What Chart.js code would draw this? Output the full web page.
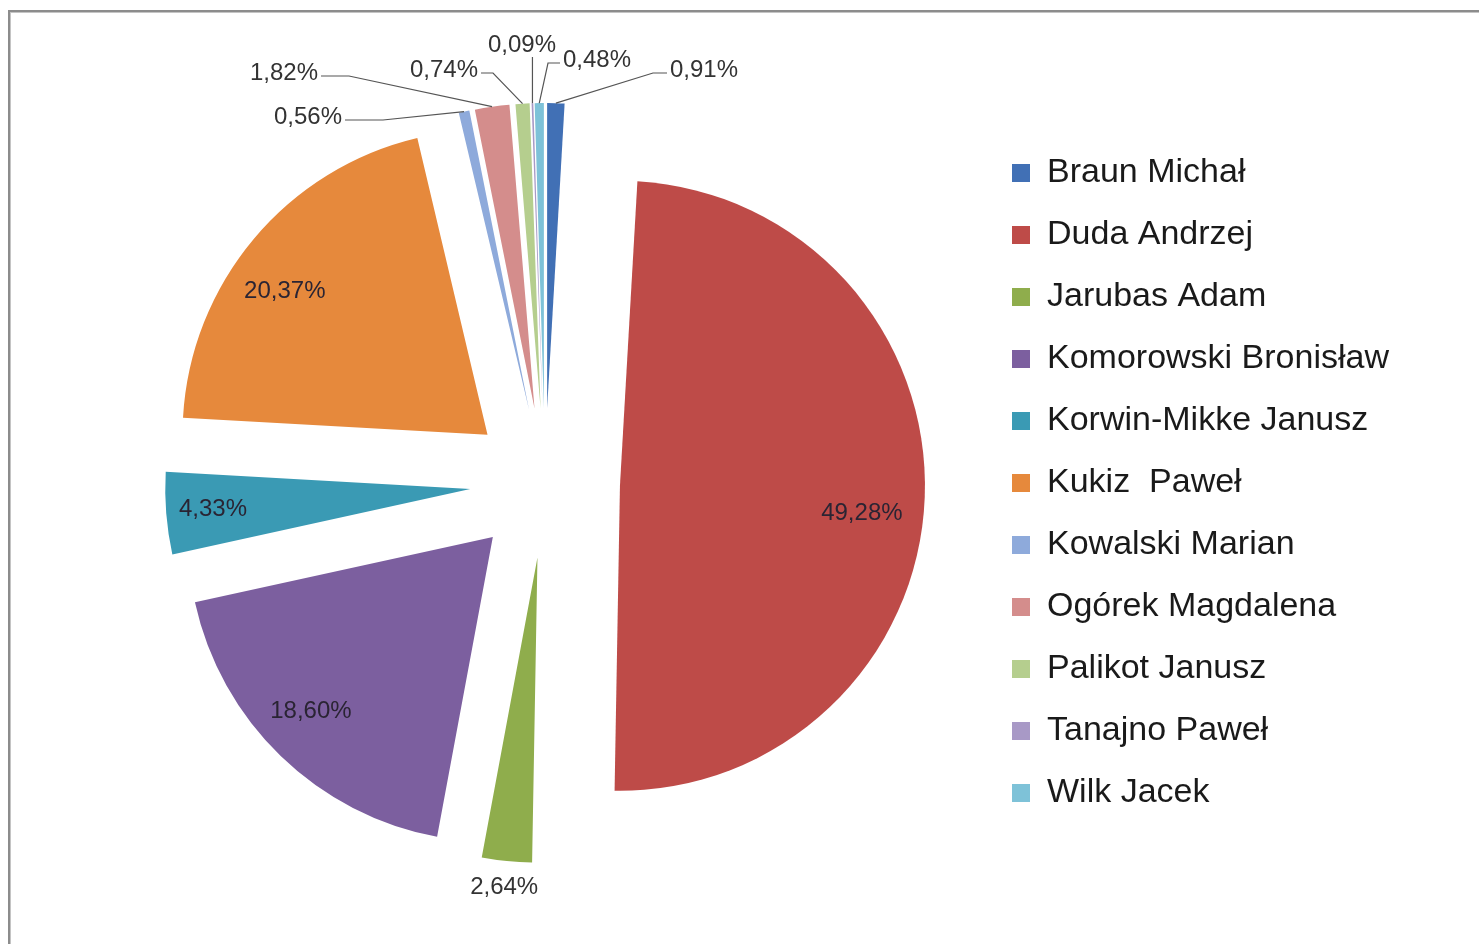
<!DOCTYPE html>
<html>
<head>
<meta charset="utf-8">
<script src="https://cdn.jsdelivr.net/npm/chart.js@4.4.1/dist/chart.umd.min.js"></script>
<style>
  html, body { margin: 0; padding: 0; background: #fff; overflow: hidden; }
  #wrap { position: relative; width: 1479px; height: 944px; }
  #frame { position: absolute; left: 8px; top: 10px; width: 1600px; height: 1100px;
           border-top: 2px solid #8c8c8c; border-left: 2px solid #8c8c8c;
           box-shadow: inset 1px 1px 0 #c4c4c4; pointer-events: none; }
</style>
</head>
<body>
<div id="wrap">
  <canvas id="c" width="1479" height="944"></canvas>
  <div id="frame"></div>
</div>
<script>
// ---- data ----
const categories = ['Braun Michał', 'Duda Andrzej', 'Jarubas Adam', 'Komorowski Bronisław',
  'Korwin-Mikke Janusz', 'Kukiz  Paweł', 'Kowalski Marian', 'Ogórek Magdalena',
  'Palikot Janusz', 'Tanajno Paweł', 'Wilk Jacek'];
const shares = [0.91, 49.28, 2.64, 18.60, 4.33, 20.37, 0.56, 1.82, 0.74, 0.09, 0.48];
const colors = ['#4170B5', '#BE4B48', '#8FAD4C', '#7C5F9F', '#3A9AB4', '#E6893C',
  '#8EAADB', '#D48D8C', '#B5CE8E', '#A899C6', '#7EC2D8'];

const fmt = v => v.toFixed(2).replace('.', ',') + '%';

// ---- styling / layout constants (not data) ----
const EXPLODE = 75;
// inside labels: pixel nudge from the default 0.82r position
const insideNudge = { 1: [-8, 18], 3: [-8, -5], 4: [-8, 0], 5: [-11, 17] };
const belowIdx = [2];
const calloutLayout = {
  0:  { dx: 125,  dy: -413, align: 'left',   hook: 14 },
  10: { dx: 18,   dy: -423, align: 'left',   hook: 12 },
  9:  { dx: -23,  dy: -438, align: 'center', hook: 0 },
  8:  { dx: -67,  dy: -413, align: 'right',  hook: 12 },
  7:  { dx: -227, dy: -410, align: 'right',  hook: 28 },
  6:  { dx: -203, dy: -366, align: 'right',  hook: 38 }
};

const explodePlugin = {
  id: 'explode',
  beforeDatasetDraw(chart, args) {
    args.meta.data.forEach(arc => {
      if (arc._exploded) return;
      const orig = arc.draw.bind(arc);
      arc.draw = function (ctx, area) {
        const half = (this.startAngle + this.endAngle) / 2;
        ctx.save();
        ctx.translate(Math.cos(half) * EXPLODE, Math.sin(half) * EXPLODE);
        orig(ctx, area);
        ctx.restore();
      };
      arc._exploded = true;
    });
  }
};

const labelPlugin = {
  id: 'sliceLabels',
  afterDatasetsDraw(chart) {
    const ctx = chart.ctx;
    const meta = chart.getDatasetMeta(0);
    ctx.save();
    ctx.textBaseline = 'middle';
    ctx.font = '24px "Liberation Sans", Arial, sans-serif';
    meta.data.forEach((arc, i) => {
      const half = (arc.startAngle + arc.endAngle) / 2;
      const ux = Math.cos(half), uy = Math.sin(half);
      const cx = arc.x, cy = arc.y, r = arc.outerRadius;
      const txt = fmt(shares[i]);
      if (insideNudge[i]) {
        const d = EXPLODE + r * 0.82;
        const [nx, ny] = insideNudge[i];
        ctx.fillStyle = '#2a2433';
        ctx.textAlign = 'center';
        ctx.fillText(txt, cx + ux * d + nx, cy + uy * d + ny);
      } else if (belowIdx.includes(i)) {
        const d = EXPLODE + r + 26;
        ctx.fillStyle = '#333';
        ctx.textAlign = 'center';
        ctx.fillText(txt, cx + ux * d, cy + uy * d);
      } else if (calloutLayout[i]) {
        const L = calloutLayout[i];
        const tx = cx + L.dx, ty = cy + L.dy;
        const p0x = cx + ux * (EXPLODE + r), p0y = cy + uy * (EXPLODE + r);
        ctx.fillStyle = '#333';
        ctx.textAlign = L.align;
        ctx.fillText(txt, tx, ty);
        ctx.strokeStyle = '#555';
        ctx.lineWidth = 1.2;
        ctx.beginPath();
        ctx.moveTo(p0x, p0y);
        if (L.align === 'left') {
          ctx.lineTo(tx - L.hook - 3, ty + 3);
          ctx.lineTo(tx - 3, ty + 3);
        } else if (L.align === 'right') {
          ctx.lineTo(tx + L.hook + 3, ty + 3);
          ctx.lineTo(tx + 3, ty + 3);
        } else {
          ctx.lineTo(p0x, ty + 12);
        }
        ctx.stroke();
      }
    });
    ctx.restore();
  }
};

new Chart(document.getElementById('c'), {
  type: 'pie',
  data: {
    labels: categories,
    datasets: [{
      data: shares,
      backgroundColor: colors,
      borderWidth: 0,
      hoverBorderWidth: 0,
      hoverOffset: 0,
      clip: false
    }]
  },
  options: {
    responsive: false,
    animation: false,
    events: [],
    radius: 305,
    layout: { padding: { left: 106, right: 80, top: 101, bottom: 79 } },
    plugins: {
      tooltip: { enabled: false },
      legend: {
        position: 'right',
        labels: {
          boxWidth: 18,
          boxHeight: 18,
          padding: 28,
          color: '#1a1a1a',
          font: { family: '"Liberation Sans", Arial, sans-serif', size: 34 }
        }
      }
    }
  },
  plugins: [explodePlugin, labelPlugin]
});
</script>
</body>
</html>
